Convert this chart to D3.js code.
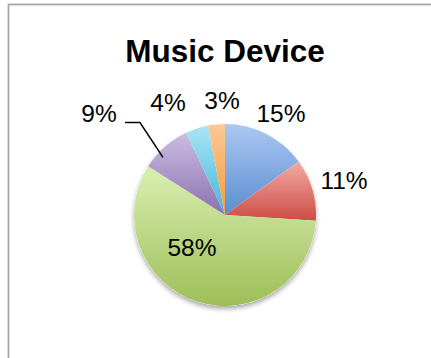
<!DOCTYPE html>
<html><head><meta charset="utf-8">
<script src="https://cdn.jsdelivr.net/npm/d3@7"></script>
<style>html,body{margin:0;padding:0;background:#fff;}svg{display:block;}</style>
</head><body>
<svg id="chart" width="431" height="358"></svg>
<script>
const title = "Music Device";
const categories = ["A", "B", "C", "D", "E", "F"];
const values = [15, 11, 58, 9, 4, 3];
const labels = ["15%", "11%", "58%", "9%", "4%", "3%"];
const topColors = ["#acc7f2", "#f4aaa4", "#d9efb2", "#cbbde2", "#a9e4f6", "#fdc897"];
const bottomColors = ["#5a8ecf", "#cc4c45", "#9dbe57", "#8a70ae", "#45b5d6", "#f39a3a"];

const svg = d3.select("#chart");
const W = 431, H = 358;
const cx = 225, cy = 215, R = 91;

// border
svg.append("rect").attr("x", 8.5).attr("y", 4.5).attr("width", W).attr("height", H)
  .attr("fill", "#fff").attr("stroke", "#a8a8a8").attr("stroke-width", 1.8);

// title
svg.append("text").attr("x", cx).attr("y", 62).attr("text-anchor", "middle")
  .attr("font-family", "Liberation Sans, Arial, Helvetica, sans-serif")
  .attr("font-weight", "bold").attr("font-size", 31.5).attr("fill", "#000").text(title);

const defs = svg.append("defs");
const shadow = defs.append("filter").attr("id", "sh").attr("x", "-20%").attr("y", "-20%").attr("width", "140%").attr("height", "140%");
shadow.append("feGaussianBlur").attr("in", "SourceAlpha").attr("stdDeviation", 2.5);
shadow.append("feOffset").attr("dx", 0).attr("dy", 3).attr("result", "ob");
shadow.append("feComponentTransfer").append("feFuncA").attr("type", "linear").attr("slope", 0.35);
const mg = shadow.append("feMerge");
mg.append("feMergeNode");
mg.append("feMergeNode").attr("in", "SourceGraphic");

const pie = d3.pie().sort(null).value(d => d)(values);
const arc = d3.arc().innerRadius(0).outerRadius(R);

const g = svg.append("g").attr("transform", `translate(${cx},${cy})`);

// shadow disc
g.append("circle").attr("r", R).attr("fill", "#fff").attr("filter", "url(#sh)");

pie.forEach((p, i) => {
  const pts = [[0, 0]];
  const n = 40;
  for (let k = 0; k <= n; k++) {
    const a = p.startAngle + (p.endAngle - p.startAngle) * k / n;
    pts.push([R * Math.sin(a), -R * Math.cos(a)]);
  }
  const ys = pts.map(q => q[1]);
  const y0 = d3.min(ys), y1 = d3.max(ys);
  const grad = defs.append("linearGradient").attr("id", "gr" + i)
    .attr("gradientUnits", "userSpaceOnUse").attr("x1", 0).attr("x2", 0)
    .attr("y1", y0).attr("y2", y1);
  grad.append("stop").attr("offset", 0).attr("stop-color", topColors[i]);
  grad.append("stop").attr("offset", 1).attr("stop-color", bottomColors[i]);
  g.append("path").attr("d", arc(p)).attr("fill", `url(#gr${i})`);
});

// labels
const labelPos = [[281, 122], [344, 189], [192, 256], [99, 122], [168, 111], [222, 109]];
svg.selectAll("text.lbl").data(labels).enter().append("text").attr("class", "lbl")
  .attr("x", (d, i) => labelPos[i][0]).attr("y", (d, i) => labelPos[i][1])
  .attr("text-anchor", "middle")
  .attr("font-family", "Liberation Sans, Arial, Helvetica, sans-serif")
  .attr("font-size", 24.5).attr("fill", "#000").text(d => d);

// leader line for 9%
const mid = (pie[3].startAngle + pie[3].endAngle) / 2;
const ex = cx + R * 0.93 * Math.sin(mid - 0.1), ey = cy - R * 0.93 * Math.cos(mid - 0.1);
svg.append("path").attr("d", d3.line()([[125, 122.5], [140, 122.5], [ex, ey]]))
  .attr("fill", "none").attr("stroke", "#000").attr("stroke-width", 1.5);
</script>
</body></html>
